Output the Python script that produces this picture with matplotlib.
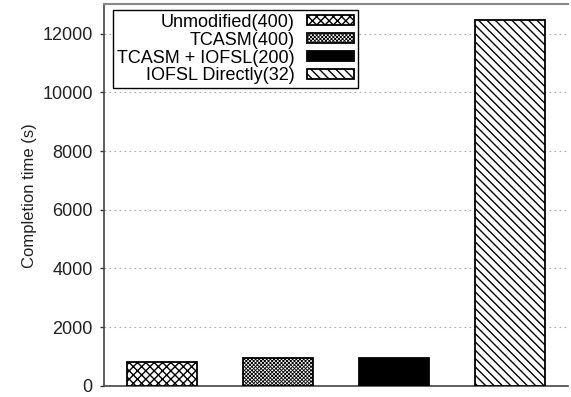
import matplotlib
matplotlib.use("Agg")
import matplotlib.pyplot as plt

# data
labels = ["Unmodified(400)", "TCASM(400)", "TCASM + IOFSL(200)", "IOFSL Directly(32)"]
times = [820, 945, 955, 12470]
hatches = ["xxxx", "x" * 9, "", "\\" * 4]
fills = ["white", "white", "black", "white"]
hatch_lw = [1.0, 0.6, 1.0, 1.0]

plt.rcParams["font.family"] = ["Liberation Sans", "DejaVu Sans"]

fig = plt.figure(figsize=(5.71, 3.97), dpi=100)
ax = fig.add_axes([0.182, 0.028, 0.813, 0.961])

for i in range(len(times)):
    plt.rcParams["hatch.linewidth"] = hatch_lw[i]
    bars = ax.bar(i, times[i], width=0.6, color=fills[i], edgecolor="black",
                  hatch=hatches[i], linewidth=1.3, label=labels[i], zorder=3)
    for b in bars:
        if hasattr(b, "set_hatch_linewidth"):
            b.set_hatch_linewidth(hatch_lw[i])

ax.set_xlim(-0.5, 3.5)
ax.set_ylim(0, 13000)
ax.set_yticks(range(0, 12001, 2000))
ax.set_xticks([])
ax.tick_params(axis="y", labelsize=13, length=3, width=1, colors="#333333",
               labelcolor="#222222", pad=5)
ax.set_ylabel("Completion time (s)", fontsize=12, labelpad=4, color="#222222")

ax.grid(axis="y", linestyle=(0, (1.5, 3)), color="#aaaaaa", linewidth=0.8, zorder=0)

for s in ["left", "bottom"]:
    ax.spines[s].set_color("#444444")
    ax.spines[s].set_linewidth(1.2)
ax.spines["top"].set_color("#888888")
ax.spines["top"].set_linewidth(1.5)
ax.spines["right"].set_visible(False)

leg = ax.legend(loc="upper left", bbox_to_anchor=(0.02, 0.985), borderaxespad=0,
                markerfirst=False, fontsize=13, fancybox=False, framealpha=1,
                edgecolor="black", handlelength=2.6, handleheight=0.5,
                labelspacing=0.05, borderpad=0.2, handletextpad=0.7)
leg.get_frame().set_linewidth(1.0)
for h, lw in zip(leg.legend_handles, hatch_lw):
    if hasattr(h, "set_hatch_linewidth"):
        h.set_hatch_linewidth(lw)

fig.savefig("out.png", dpi=100)
